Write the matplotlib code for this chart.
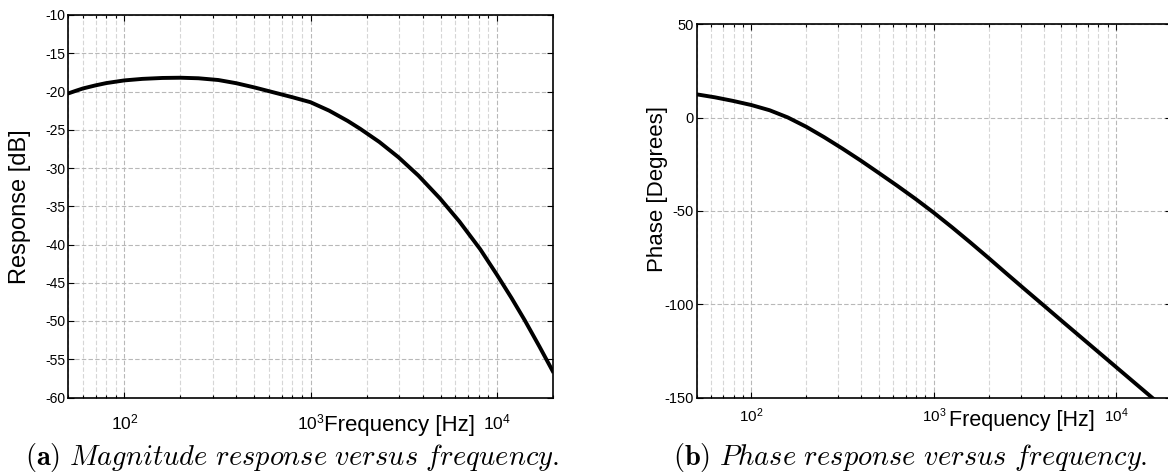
import math
import matplotlib
matplotlib.use("Agg")
from matplotlib import pyplot as plt
from matplotlib.ticker import LogLocator, FixedLocator, FuncFormatter

plt.rcParams['axes.unicode_minus'] = False
plt.rcParams['font.family'] = ['Liberation Sans', 'DejaVu Sans']
plt.rcParams['mathtext.fontset'] = 'cm'

# magnitude response
mag_freq = [50, 55, 60, 70, 80, 100, 125, 160, 200, 250, 320, 400, 500, 630,
            800, 1000, 1259, 1585, 1855, 2344, 2970, 3802, 4970, 6310, 8150,
            10000, 12023, 14190, 16982, 20000]
mag_db = [-20.25, -19.9, -19.6, -19.2, -18.9, -18.55, -18.35, -18.23, -18.2,
          -18.27, -18.5, -18.92, -19.47, -20.1, -20.75, -21.4, -22.5, -23.85,
          -24.9, -26.6, -28.6, -31.0, -34.0, -37.0, -40.6, -43.9, -47.0,
          -49.95, -53.35, -56.55]

# phase response
ph_freq = [50, 63, 79, 100, 126, 158, 200, 251, 316, 398, 501, 631, 794,
           1000, 1259, 1585, 2000, 2512, 3162, 4000, 5012, 6310, 7943, 10000,
           12589, 15849, 20000]
ph_deg = [12.5, 10.9, 9.0, 6.75, 3.95, 0.15, -4.9, -10.5, -16.6, -23.0, -29.7,
          -36.5, -43.5, -50.9, -58.7, -66.8, -75.2, -83.6, -92.0, -100.5,
          -108.7, -117.0, -125.3, -133.6, -141.9, -150.2, -158.5]

mag_yticks = [-60, -55, -50, -45, -40, -35, -30, -25, -20, -15, -10]
ph_yticks = [-150, -100, -50, 0, 50]
dec_ticks = [1e2, 1e3, 1e4]

captions = [r"$\mathbf{(a)}\ \mathit{Magnitude\ response\ versus\ frequency.}$",
            r"$\mathbf{(b)}\ \mathit{Phase\ response\ versus\ frequency.}$"]

W, H = 1168, 475
fig = plt.figure(figsize=(W / 100, H / 100), dpi=100)

ax1 = fig.add_axes([68.3 / W, 1 - 397.5 / H, 484.4 / W, 382.5 / H])
ax2 = fig.add_axes([696.5 / W, 1 - 397.7 / H, 474.5 / W, 373.4 / H])


def dec_fmt(v, pos):
    return r"$\mathregular{10^{%d}}$" % round(math.log10(v))


def style(ax, ylim, yticks, xtick_size, ytick_size, xpad):
    ax.set_xscale('log')
    ax.set_xlim(50, 20000)
    ax.set_ylim(*ylim)
    ax.xaxis.set_major_locator(FixedLocator(dec_ticks))
    ax.xaxis.set_major_formatter(FuncFormatter(dec_fmt))
    ax.xaxis.set_minor_locator(LogLocator(base=10, subs=range(2, 10)))
    ax.set_yticks(yticks)
    ax.grid(True, which='major', axis='both', linestyle=(0, (4, 2)), color='#b8b8b8', linewidth=0.8)
    ax.grid(True, which='minor', axis='x', linestyle=(0, (4, 2)), color='#d6d6d6', linewidth=0.8)
    ax.tick_params(which='both', direction='in', top=True, right=True, width=0.8)
    ax.tick_params(which='major', length=4)
    ax.tick_params(which='minor', length=2.5)
    ax.tick_params(axis='x', labelsize=xtick_size, pad=xpad)
    ax.tick_params(axis='y', labelsize=ytick_size, pad=2)
    for s in ax.spines.values():
        s.set_linewidth(1.2)
        s.set_color('black')


ax1.plot(mag_freq, mag_db, color='black', linewidth=2.8)
style(ax1, (-60, -10), mag_yticks, 12.5, 10, 11)
ax1.set_ylabel('Response [dB]', fontsize=17, va='center')
ax1.yaxis.set_label_coords(-0.099, 0.5)
ax1.set_xlabel('Frequency [Hz]', fontsize=16, ha='left', va='baseline')
ax1.xaxis.set_label_coords(0.527, -0.0876)

ax2.plot(ph_freq, ph_deg, color='black', linewidth=2.8)
style(ax2, (-150, 50), ph_yticks, 11, 10.5, 6)
ax2.set_ylabel('Phase [Degrees]', fontsize=16, va='center')
ax2.yaxis.set_label_coords(-0.083, 0.56)
ax2.set_xlabel('Frequency [Hz]', fontsize=15.5, ha='left', va='baseline')
ax2.xaxis.set_label_coords(0.532, -0.076)

fig.text(0.25, 0.022, captions[0], fontsize=20.5, ha='center', va='baseline')
fig.text(0.779, 0.022, captions[1], fontsize=20.5, ha='center', va='baseline')

fig.savefig('out.png', dpi=100)
